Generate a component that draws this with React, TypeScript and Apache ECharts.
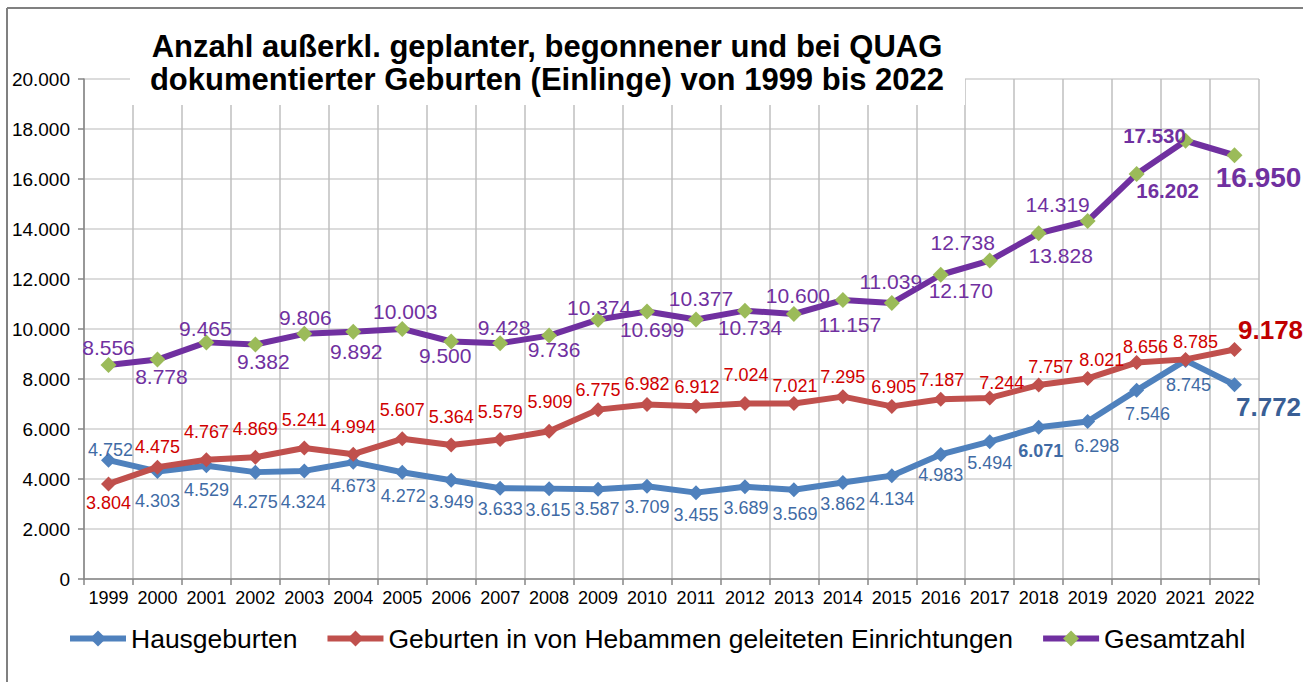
import React, { useEffect, useRef } from "react";
import * as echarts from "echarts";

const years = ["1999","2000","2001","2002","2003","2004","2005","2006","2007","2008","2009","2010","2011","2012","2013","2014","2015","2016","2017","2018","2019","2020","2021","2022"];
const hausgeburten = [4752,4303,4529,4275,4324,4673,4272,3949,3633,3615,3587,3709,3455,3689,3569,3862,4134,4983,5494,6071,6298,7546,8745,7772];
const hebammen = [3804,4475,4767,4869,5241,4994,5607,5364,5579,5909,6775,6982,6912,7024,7021,7295,6905,7187,7244,7757,8021,8656,8785,9178];
const gesamt = [8556,8778,9465,9382,9806,9892,10003,9500,9428,9736,10374,10699,10377,10734,10600,11157,11039,12170,12738,13828,14319,16202,17530,16950];
const yMax = 20000;
const yStep = 2000;

const seriesNames = ["Hausgeburten", "Geburten in von Hebammen geleiteten Einrichtungen", "Gesamtzahl"];
const titleLines = ["Anzahl außerkl. geplanter, begonnener und bei QUAG", "dokumentierter Geburten (Einlinge) von 1999 bis 2022"];

// label placement offsets (pixels) relative to each point
const blueOff = [[2,-10],[0,30],[0,24],[0,30],[-1,31],[0,24],[1,24],[0,22],[0,21],[-1,21],[-1,20],[0,21],[0,22],[1,21],[1,24],[0,22],[0,23],[0,21],[0,21],[2,24],[9,24],[11,24],[3,25],[34,22]];
const redOff = [[0,19],[0,-20],[0,-28],[0,-28],[0,-28],[0,-27],[0,-29],[0,-28],[0,-28],[1,-29],[0,-20],[0,-20],[1,-19],[1,-28],[1,-17],[0,-20],[2,-19],[1,-19],[12,-15],[12,-18],[14,-18],[9,-16],[10,-17],[36,-20]];
const purpleOff = [[0,-18],[4,17],[-1,-14],[8,17],[1,-16],[3,20],[3,-17],[-6,14],[4,-16],[5,14],[1,-12],[5,18],[5,-21],[5,17],[4,-19],[7,24],[-1,-22],[20,16],[-27,-18],[22,22],[-30,-17],[31,17],[-31,-5],[24,22]];

const FONT = "'Liberation Sans', Arial, Helvetica, sans-serif";

function fmt(v: number): string {
  const s = String(Math.round(v));
  return s.replace(/\B(?=(\d{3})+(?!\d))/g, ".");
}

function buildData(values: number[], offs: number[][], special: Record<number, any>) {
  return values.map((v, i) => ({
    value: v,
    label: { offset: offs[i], ...(special[i] || {}) },
  }));
}

export default function App() {
  const ref = useRef<HTMLDivElement>(null);
  useEffect(() => {
    if (!ref.current) return;
    const chart = echarts.init(ref.current, undefined, { renderer: "svg" });
    const last = years.length - 1;
    const option: any = {
      animation: false,
      backgroundColor: "#ffffff",
      textStyle: { fontFamily: FONT },
      grid: { left: 84, right: 44, top: 79, bottom: 103, containLabel: false },
      legend: {
        data: seriesNames,
        left: 62,
        top: 620,
        itemWidth: 56,
        itemHeight: 20,
        itemGap: 27,
        lineStyle: { width: 6 },
        textStyle: { fontSize: 26.5, color: "#000", fontFamily: FONT },
      },
      xAxis: {
        type: "category",
        data: years,
        boundaryGap: true,
        axisLine: { show: true, lineStyle: { color: "#868686", width: 1.5 } },
        axisTick: { show: true, length: 6, alignWithLabel: false, lineStyle: { color: "#868686", width: 1.5 } },
        axisLabel: { fontSize: 18, color: "#000", margin: 10, fontFamily: FONT, interval: 0 },
        splitLine: { show: true, lineStyle: { color: "#BFBFBF", width: 1.5 } },
      },
      yAxis: {
        type: "value",
        min: 0,
        max: yMax,
        interval: yStep,
        axisLine: { show: true, lineStyle: { color: "#868686", width: 1.5 } },
        axisTick: { show: true, length: 6, lineStyle: { color: "#868686", width: 1.5 } },
        axisLabel: { fontSize: 19, color: "#000", margin: 14, fontFamily: FONT, formatter: (v: number) => fmt(v) },
        splitLine: { show: true, lineStyle: { color: "#D0D0D0", width: 1.5 } },
      },
      graphic: [
        { type: "line", z: 200, shape: { x1: 7, y1: 8, x2: 7, y2: 682 }, style: { stroke: "#808080", lineWidth: 2 } },
        { type: "line", z: 200, shape: { x1: 7, y1: 8, x2: 1303, y2: 8 }, style: { stroke: "#808080", lineWidth: 2 } },
        { type: "rect", z: 150, shape: { x: 130, y: 18, width: 835, height: 87 }, style: { fill: "#ffffff" } },
        { type: "text", z: 160, x: 547, y: 46, style: { text: titleLines[0], fontSize: 31, fontWeight: "bold", fontFamily: FONT, fill: "#000", textAlign: "center", textVerticalAlign: "middle" } },
        { type: "text", z: 160, x: 547, y: 79, style: { text: titleLines[1], fontSize: 31, fontWeight: "bold", fontFamily: FONT, fill: "#000", textAlign: "center", textVerticalAlign: "middle" } },
      ],
      series: [
        {
          name: seriesNames[0],
          type: "line",
          data: buildData(hausgeburten, blueOff, {
            19: { fontWeight: "bold" },
            [last]: { fontWeight: "bold", fontSize: 26, color: "#3A5F95" },
          }),
          symbol: "diamond",
          symbolSize: 15,
          lineStyle: { color: "#4F81BD", width: 6 },
          itemStyle: { color: "#4F81BD" },
          label: { show: true, position: "inside", color: "#3F6BA5", fontSize: 18, fontFamily: FONT, formatter: (p: any) => fmt(p.value) },
          z: 3,
        },
        {
          name: seriesNames[1],
          type: "line",
          data: buildData(hebammen, redOff, {
            [last]: { fontWeight: "bold", fontSize: 26, color: "#C00000" },
          }),
          symbol: "diamond",
          symbolSize: 15,
          lineStyle: { color: "#C0504D", width: 6 },
          itemStyle: { color: "#C0504D" },
          label: { show: true, position: "inside", color: "#D00000", fontSize: 18, fontFamily: FONT, formatter: (p: any) => fmt(p.value) },
          z: 4,
        },
        {
          name: seriesNames[2],
          type: "line",
          data: buildData(gesamt, purpleOff, {
            21: { fontWeight: "bold", fontSize: 20.5 },
            22: { fontWeight: "bold", fontSize: 20.5 },
            [last]: { fontWeight: "bold", fontSize: 28 },
          }),
          symbol: "diamond",
          symbolSize: 16,
          lineStyle: { color: "#7030A0", width: 6 },
          itemStyle: { color: "#9BBB59" },
          label: { show: true, position: "inside", color: "#7030A0", fontSize: 21, fontFamily: FONT, formatter: (p: any) => fmt(p.value) },
          z: 5,
        },
      ],
    };
    chart.setOption(option);
    return () => chart.dispose();
  }, []);
  return <div ref={ref} style={{ position: "fixed", left: 0, top: 0, width: 1303, height: 682, background: "#fff" }} />;
}
